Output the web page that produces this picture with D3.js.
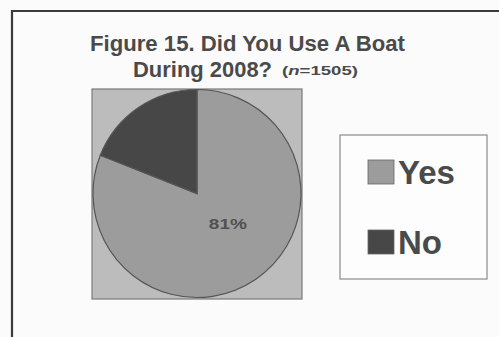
<!DOCTYPE html>
<html>
<head>
<meta charset="utf-8">
<script src="https://cdn.jsdelivr.net/npm/d3@7/dist/d3.min.js"></script>
<style>
  html, body { margin: 0; padding: 0; background: #fbfbfb; }
  svg { display: block; font-family: "Liberation Sans", Arial, sans-serif; }
</style>
</head>
<body>
<svg id="chart" width="499" height="337"></svg>
<script>
// Survey responses: share of respondents who used a boat during 2008
const categories = ["Yes", "No"];
const shares = [81, 19];
const colors = ["#9c9c9c", "#474747"];
const titleLines = ["Figure 15. Did You Use A Boat", "During 2008?"];
const sampleNote = "(n=1505)";

const svg = d3.select("#chart");
const W = 499, H = 337;

// outer frame (open to the right and bottom)
svg.append("path")
  .attr("d", `M12,${H} L12,11 L${W},11`)
  .attr("fill", "none")
  .attr("stroke", "#3a3a3a")
  .attr("stroke-width", 2.2);

// title
const title = svg.append("g").attr("fill", "#4a4a4a").attr("font-weight", "bold");
title.append("text")
  .attr("x", 247.5).attr("y", 51)
  .attr("text-anchor", "middle")
  .attr("font-size", 22)
  .attr("textLength", 315).attr("lengthAdjust", "spacingAndGlyphs")
  .text(titleLines[0]);
title.append("text")
  .attr("x", 133).attr("y", 77)
  .attr("font-size", 22)
  .attr("textLength", 139).attr("lengthAdjust", "spacingAndGlyphs")
  .text(titleLines[1]);
const note = title.append("text")
  .attr("x", 282).attr("y", 75)
  .attr("font-size", 12)
  .attr("textLength", 76).attr("lengthAdjust", "spacingAndGlyphs");
note.append("tspan").text("(");
note.append("tspan").attr("font-style", "italic").text("n");
note.append("tspan").text("=1505)");

// plot area
const plot = { x: 92, y: 89, w: 210, h: 210 };
svg.append("rect")
  .attr("x", plot.x).attr("y", plot.y)
  .attr("width", plot.w).attr("height", plot.h)
  .attr("fill", "#bcbcbc")
  .attr("stroke", "#7a7a7a")
  .attr("stroke-width", 1.2);

const cx = 197, cy = 193.5, r = 104;
const pie = d3.pie().sort(null).value(d => d.value);
const arcs = pie(categories.map((c, i) => ({ name: c, value: shares[i], color: colors[i] })));
const arc = d3.arc().innerRadius(0).outerRadius(r);

const pieG = svg.append("g").attr("transform", `translate(${cx},${cy})`);
pieG.selectAll("path")
  .data(arcs)
  .join("path")
  .attr("d", arc)
  .attr("fill", d => d.data.color)
  .attr("stroke", "#555")
  .attr("stroke-width", 1.2);

// percentage label on the larger slice
const labelArc = d3.arc().innerRadius(0).outerRadius(r * 0.85);
const yesArc = arcs[0];
const [lx, ly] = labelArc.centroid(yesArc);
pieG.append("text")
  .attr("x", lx + 6).attr("y", ly - 1)
  .attr("text-anchor", "middle")
  .attr("font-size", 14)
  .attr("font-weight", "bold")
  .attr("fill", "#505050")
  .attr("textLength", 38).attr("lengthAdjust", "spacingAndGlyphs")
  .text(d3.format(".0f")(yesArc.data.value) + "%");

// legend
const legend = svg.append("g");
legend.append("rect")
  .attr("x", 340).attr("y", 135)
  .attr("width", 147).attr("height", 144)
  .attr("fill", "#fdfdfd")
  .attr("stroke", "#8a8a8a")
  .attr("stroke-width", 1.2);

const legendY = d3.scalePoint().domain(categories).range([160, 230]);
const items = legend.selectAll("g.item")
  .data(categories.map((c, i) => ({ name: c, color: colors[i] })))
  .join("g")
  .attr("class", "item")
  .attr("transform", d => `translate(368,${legendY(d.name)})`);
items.append("rect")
  .attr("width", 26).attr("height", 24)
  .attr("fill", d => d.color)
  .attr("stroke", "#666")
  .attr("stroke-width", 0.8);
items.append("text")
  .attr("x", 30).attr("y", 24)
  .attr("font-size", 33)
  .attr("font-weight", "bold")
  .attr("fill", "#4a4a4a")
  .text(d => d.name);
</script>
</body>
</html>
